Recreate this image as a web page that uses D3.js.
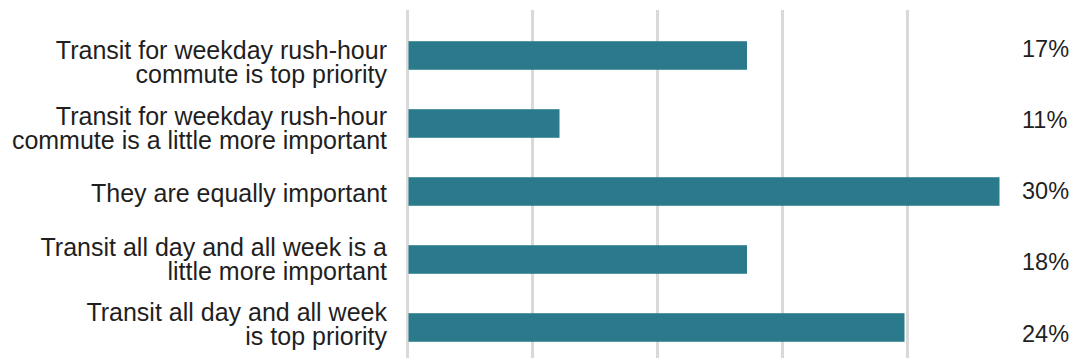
<!DOCTYPE html>
<html>
<head>
<meta charset="utf-8">
<script src="https://cdn.jsdelivr.net/npm/d3@7"></script>
<style>
  html, body { margin: 0; padding: 0; background: #fff; }
  svg { display: block; font-family: "Liberation Sans", Arial, sans-serif; }
</style>
</head>
<body>
<div id="chart"></div>
<script>
// Kategorien (Zeilenumbruch wie im Original)
const categories = [
  "Transit for weekday rush-hour\ncommute is top priority",
  "Transit for weekday rush-hour\ncommute is a little more important",
  "They are equally important",
  "Transit all day and all week is a\nlittle more important",
  "Transit all day and all week\nis top priority"
];

const barValues = [13.6, 6.1, 23.7, 13.6, 19.9];

// Beschriftungen rechts
const valueLabels = ["17%", "11%", "30%", "18%", "24%"];

const gridTicks = [0, 5, 10, 15, 20];

const width = 1073;
const height = 358;

const svg = d3.select("#chart").append("svg")
  .attr("width", width)
  .attr("height", height);

// Skalen
const x = d3.scaleLinear()
  .domain([0, 20])
  .range([407, 907]);

const y = d3.scaleBand()
  .domain(categories)
  .range([21.5, 361.5])
  .paddingInner(0.58)
  .paddingOuter(0.29);

// Beschriftungsspalten sitzen im Original etwas anders als die Balken
const yCat = d3.scalePoint()
  .domain(categories)
  .range([62, 324]);

const yLabel = d3.scalePoint()
  .domain(categories)
  .range([48, 333]);

// Gitterlinien
svg.append("g")
  .attr("transform", `translate(0,${height})`)
  .call(d3.axisBottom(x)
    .tickValues(gridTicks)
    .tickSize(-(height - 10))
    .tickFormat(""))
  .call(g => g.select(".domain").remove())
  .call(g => g.selectAll(".tick line")
    .attr("stroke", "#d9d9d9")
    .attr("stroke-width", 3));

// Balken
svg.selectAll(".bar")
  .data(categories)
  .enter()
  .append("rect")
  .attr("class", "bar")
  .attr("x", x(0) + 1.5)
  .attr("y", d => y(d))
  .attr("width", (d, i) => x(barValues[i]) - x(0) - 1.5)
  .attr("height", y.bandwidth())
  .attr("fill", "#2a7a8b");

// Kategorienbeschriftung links
const fontSize = 25;
const lineH = 24;
svg.selectAll(".cat")
  .data(categories)
  .enter()
  .append("text")
  .attr("class", "cat")
  .attr("text-anchor", "end")
  .style("font-size", fontSize + "px")
  .style("fill", "#1f1f1f")
  .each(function (d) {
    const lines = d.split("\n");
    const cy = yCat(d);
    const first = cy - (lines.length - 1) * lineH / 2 + 9;
    lines.forEach((ln, j) => {
      d3.select(this).append("tspan")
        .attr("x", 387)
        .attr("y", first + j * lineH)
        .text(ln);
    });
  });

// Prozentwerte rechts
svg.selectAll(".val")
  .data(categories)
  .enter()
  .append("text")
  .attr("class", "val")
  .attr("x", 1022)
  .attr("y", d => yLabel(d) + 8.6)
  .attr("text-anchor", "start")
  .style("font-size", "23.5px")
  .style("fill", "#1f1f1f")
  .text((d, i) => valueLabels[i]);
</script>
</body>
</html>
